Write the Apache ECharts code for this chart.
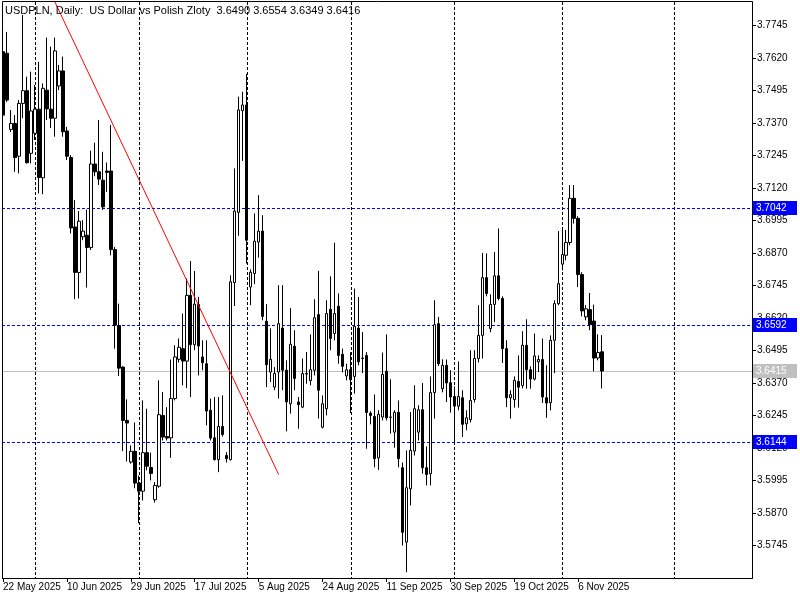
<!DOCTYPE html>
<html><head><meta charset="utf-8">
<script src="https://cdn.jsdelivr.net/npm/echarts@6/dist/echarts.min.js"></script>
<style>html,body{margin:0;padding:0;background:#fff}#c{width:800px;height:600px}</style>
</head><body><div id="c"></div>
<script>
// ---- data (daily bars, Sunday-Friday sessions, starting 22 May 2025) ----
const firstBarDate = '2025-05-22';
const slotCount = 188; // visible bar slots incl. empty future area
const openPrices = [3.7644,3.7638,3.7345,3.7368,3.7242,3.7445,3.7494,3.7253,3.7330,3.7423,
3.7159,3.7496,3.7423,3.7388,3.7512,3.7570,3.7339,3.7237,3.6970,3.6795,
3.6932,3.6938,3.6891,3.7212,3.7182,3.7150,3.7185,3.7185,3.6883,3.6591,
3.6431,3.6226,3.6066,3.6107,3.5985,3.5954,3.6102,3.6045,3.5921,3.5973,
3.6245,3.6164,3.6159,3.6310,3.6461,3.6502,3.6454,3.6707,3.6517,3.6672,
3.6470,3.6444,3.6265,3.6159,3.6075,3.6203,3.6091,3.6075,3.6756,3.7026,
3.7417,3.7439,3.6739,3.6791,3.6912,3.6954,3.6607,3.6412,3.6354,3.6412,
3.6581,3.6419,3.6290,3.6511,3.6297,3.6277,3.6406,3.6379,3.6419,3.6633,
3.6200,3.6271,3.6653,3.6560,3.6665,3.6480,3.6397,3.6421,3.6395,3.6581,
3.6464,3.6476,3.6254,3.6241,3.6082,3.6239,3.6415,3.6239,3.6181,3.6257,
3.6044,3.5758,3.5963,3.6108,3.6181,3.6267,3.6044,3.6021,3.6333,3.6598,
3.6348,3.6438,3.6371,3.6318,3.6281,3.6313,3.6213,3.6229,3.6306,3.6464,
3.6553,3.6775,3.6579,3.6672,3.6782,3.6695,3.6502,3.6313,3.6306,3.6376,
3.6360,3.6515,3.6421,3.6385,3.6451,3.6460,3.6313,3.6294,3.6534,3.6675,
3.6827,3.6861,3.6910,3.7080,3.7003,3.6787,3.6624,3.6652,3.6608,3.6466,
3.6490];
const closePrices = [3.7400,3.7458,3.7368,3.7237,3.7445,3.7494,3.7217,3.7416,3.7423,3.7160,
3.7503,3.7424,3.7388,3.7647,3.7570,3.7336,3.7242,3.6966,3.6795,3.6992,
3.6954,3.6891,3.7212,3.7182,3.7154,3.7047,3.7180,3.6883,3.6592,3.6427,
3.6226,3.6216,3.6107,3.5985,3.5954,3.6102,3.6050,3.6022,3.5976,3.6248,
3.6162,3.6158,3.6310,3.6470,3.6507,3.6454,3.6707,3.6517,3.6673,3.6512,
3.6448,3.6262,3.6158,3.6075,3.6203,3.6172,3.6079,3.6759,3.7031,3.7420,
3.7439,3.6919,3.6796,3.6915,3.6954,3.6626,3.6440,3.6461,3.6407,3.6598,
3.6419,3.6297,3.6519,3.6387,3.6286,3.6406,3.6404,3.6421,3.6621,3.6342,
3.6290,3.6637,3.6541,3.6637,3.6476,3.6434,3.6421,3.6383,3.6588,3.6451,
3.6466,3.6256,3.6245,3.6079,3.6249,3.6403,3.6236,3.6238,3.6257,3.6079,
3.5796,3.5967,3.6111,3.6271,3.6267,3.6044,3.6018,3.6333,3.6594,3.6444,
3.6438,3.6370,3.6316,3.6281,3.6318,3.6211,3.6236,3.6303,3.6464,3.6553,
3.6775,3.6714,3.6672,3.6782,3.6695,3.6502,3.6313,3.6325,3.6380,3.6354,
3.6515,3.6421,3.6385,3.6474,3.6460,3.6316,3.6293,3.6534,3.6675,3.6752,
3.6864,3.6910,3.7080,3.7003,3.6787,3.6647,3.6655,3.6594,3.6466,3.6487,
3.6416];
const lowPrices = [3.7393,3.7450,3.7335,3.7182,3.7176,3.7388,3.7214,3.7214,3.7304,3.7099,
3.7096,3.7381,3.7350,3.7317,3.7496,3.7317,3.7227,3.6945,3.6692,3.6695,
3.6919,3.6737,3.6881,3.7165,3.7131,3.7035,3.7105,3.6861,3.6502,3.6397,
3.6108,3.6068,3.6060,3.5965,3.5831,3.5918,3.6034,3.5995,3.5910,3.5967,
3.6149,3.6149,3.6082,3.6303,3.6449,3.6361,3.6350,3.6316,3.6496,3.6399,
3.6419,3.6207,3.6149,3.6072,3.6027,3.6164,3.6064,3.6072,3.6666,3.6936,
3.7224,3.6829,3.6669,3.6750,3.6852,3.6611,3.6354,3.6374,3.6342,3.6310,
3.6342,3.6184,3.6252,3.6342,3.6194,3.6273,3.6367,3.6361,3.6399,3.6233,
3.6195,3.6245,3.6496,3.6534,3.6444,3.6411,3.6380,3.6254,3.6329,3.6438,
3.6408,3.6117,3.6211,3.6046,3.6036,3.6226,3.6226,3.6175,3.6121,3.6046,
3.5745,3.5642,3.5899,3.6091,3.6149,3.6021,3.5976,3.5976,3.6233,3.6435,
3.6334,3.6297,3.6256,3.6143,3.6265,3.6162,3.6188,3.6218,3.6295,3.6449,
3.6464,3.6703,3.6565,3.6604,3.6688,3.6447,3.6277,3.6233,3.6275,3.6275,
3.6349,3.6348,3.6348,3.6380,3.6412,3.6293,3.6236,3.6265,3.6408,3.6669,
3.6803,3.6842,3.6900,3.6983,3.6739,3.6626,3.6611,3.6573,3.6415,3.6457,
3.6349];
const highPrices = [3.7650,3.7720,3.7420,3.7400,3.7458,3.7785,3.7548,3.7567,3.7516,3.7605,
3.7522,3.7698,3.7663,3.7698,3.7593,3.7625,3.7355,3.7246,3.7073,3.7031,
3.6996,3.7037,3.7263,3.7294,3.7381,3.7259,3.7218,3.7362,3.6893,3.6675,
3.6434,3.6307,3.6130,3.6218,3.6014,3.6303,3.6271,3.6102,3.5989,3.6380,
3.6335,3.6277,3.6460,3.6515,3.6541,3.6637,3.6772,3.6839,3.6801,3.6701,
3.6534,3.6534,3.6310,3.6316,3.6316,3.6322,3.6104,3.6784,3.7195,3.7471,
3.7490,3.7558,3.6807,3.7022,3.7092,3.7015,3.6673,3.6580,3.6431,3.6746,
3.6746,3.6457,3.6658,3.6573,3.6316,3.6464,3.6489,3.6557,3.6692,3.6801,
3.6322,3.6688,3.6780,3.6909,3.6714,3.6502,3.6444,3.6488,3.6733,3.6701,
3.6566,3.6488,3.6261,3.6326,3.6265,3.6487,3.6557,3.6384,3.6265,3.6303,
3.6064,3.6111,3.6258,3.6361,3.6284,3.6370,3.6126,3.6395,3.6688,3.6624,
3.6461,3.6460,3.6419,3.6357,3.6453,3.6342,3.6265,3.6496,3.6496,3.6669,
3.6870,3.6868,3.6711,3.6874,3.6964,3.6703,3.6534,3.6342,3.6395,3.6476,
3.6569,3.6615,3.6434,3.6560,3.6476,3.6541,3.6438,3.6553,3.6688,3.6954,
3.6958,3.6958,3.7131,3.7131,3.7011,3.6796,3.6669,3.6716,3.6671,3.6557,
3.6554];
const xTickLabels = ['22 May 2025','10 Jun 2025','29 Jun 2025','17 Jul 2025','5 Aug 2025',
  '24 Aug 2025','11 Sep 2025','30 Sep 2025','19 Oct 2025','6 Nov 2025'];
const xTickEvery = 16;
const yTickLabels = ['3.5745','3.5870','3.5995','3.6120','3.6245','3.6370','3.6495','3.6620',
  '3.6745','3.6870','3.6995','3.7120','3.7245','3.7370','3.7495','3.7620','3.7745'];
const monthGridDates = ['2025-06-01','2025-07-01','2025-08-01','2025-09-01','2025-10-01','2025-11-02','2025-12-04'];
const levelLines = [3.7042, 3.6592, 3.6144];
const lastPrice = 3.6415;
const trendStart = ['2025-06-06', 3.7835];
const trendEnd = ['2025-08-11', 3.6018];
const titleText = 'USDPLN, Daily:  US Dollar vs Polish Zloty  3.6490 3.6554 3.6349 3.6416';

// ---- build categories (Sunday-Friday bars) ----
const cats = [];
{
  const p = firstBarDate.split('-').map(Number);
  let t = Date.UTC(p[0], p[1]-1, p[2]);
  while (cats.length < slotCount) {
    const d = new Date(t);
    if (d.getUTCDay() !== 6) cats.push(d.toISOString().slice(0,10));
    t += 86400000;
  }
}
const ohlc = openPrices.map((o,i)=>[o, closePrices[i], lowPrices[i], highPrices[i]]);
const yTicks = yTickLabels.map(Number);
const FONT = 'Liberation Sans';
const showX = i => i % xTickEvery === 0 && (i / xTickEvery) < xTickLabels.length;

const chart = echarts.init(document.getElementById('c'), null, {renderer:'canvas'});
chart.setOption({
  animation:false,
  backgroundColor:'#fff',
  grid:{left:0, right:48, top:2, bottom:22},
  xAxis:{type:'category', data:cats, boundaryGap:true,
    axisLine:{show:true, lineStyle:{color:'#000', width:1}},
    axisTick:{show:true, alignWithLabel:true, length:4, interval:(i)=>showX(i), lineStyle:{color:'#000'}},
    axisLabel:{show:true, interval:(i)=>showX(i), formatter:(v,i)=>xTickLabels[Math.round(i/xTickEvery)]||'',
      align:'left', margin:4, color:'#000', fontFamily:FONT, fontSize:10},
    splitLine:{show:false}},
  yAxis:{type:'value', position:'right', min:3.5620, max:3.7835,
    axisLine:{show:true, onZero:false, lineStyle:{color:'#000'}},
    axisTick:{show:true, length:4, customValues:yTicks, lineStyle:{color:'#000'}},
    axisLabel:{customValues:yTicks, formatter:v=>Number(v).toFixed(4), margin:5, color:'#000', fontFamily:FONT, fontSize:10},
    splitLine:{show:false}},
  series:[
    {type:'candlestick', z:5, data:ohlc, barWidth:3, silent:true,
      itemStyle:{color:'#fff', color0:'#000', borderColor:'#000', borderColor0:'#000', borderWidth:1}},
    {type:'line', z:8, data:[trendStart, trendEnd], showSymbol:false, silent:true,
      lineStyle:{color:'#ff0000', width:1}}
  ]
});

const L = 2, R = 752, T = 2, B = 578;
function hLine(v, color, dash){
  const y = Math.round(chart.convertToPixel({yAxisIndex:0}, v)) + 0.5;
  return {type:'line', z:1, silent:true, shape:{x1:L, y1:y, x2:R, y2:y},
    style:{stroke:color, lineWidth:1, lineDash:dash}};
}
function vLine(d){
  const x = Math.round(chart.convertToPixel({xAxisIndex:0}, d)) + 0.5;
  return {type:'line', z:1, silent:true, shape:{x1:x, y1:T, x2:x, y2:B},
    style:{stroke:'#000', lineWidth:1, lineDash:[3,2]}};
}
function tag(v, bg){
  const y = Math.round(chart.convertToPixel({yAxisIndex:0}, v));
  return [
    {type:'rect', z:100, shape:{x:753, y:y-7, width:44, height:14}, style:{fill:bg}},
    {type:'text', z:101, x:756, y:y, style:{text:v.toFixed(4), fill:'#fff', font:'10px '+FONT, textVerticalAlign:'middle'}}
  ];
}
chart.setOption({graphic:[
  ...monthGridDates.map(vLine),
  hLine(lastPrice, '#c0c0c0', null),
  ...levelLines.map(v=>hLine(v, '#0000ff', [3,2])),
  {type:'rect', z:90, shape:{x:0, y:0, width:2, height:600}, style:{fill:'#fff'}},
  {type:'rect', z:91, shape:{x:2.5, y:1.5, width:750, height:577}, style:{fill:null, stroke:'#000', lineWidth:1}},
  {type:'text', z:95, x:5, y:5, style:{text:titleText, fill:'#000', font:'11px '+FONT}},
  ...levelLines.flatMap(v=>tag(v,'#0000ff')),
  ...tag(lastPrice,'#c0c0c0')
]});
</script></body></html>
